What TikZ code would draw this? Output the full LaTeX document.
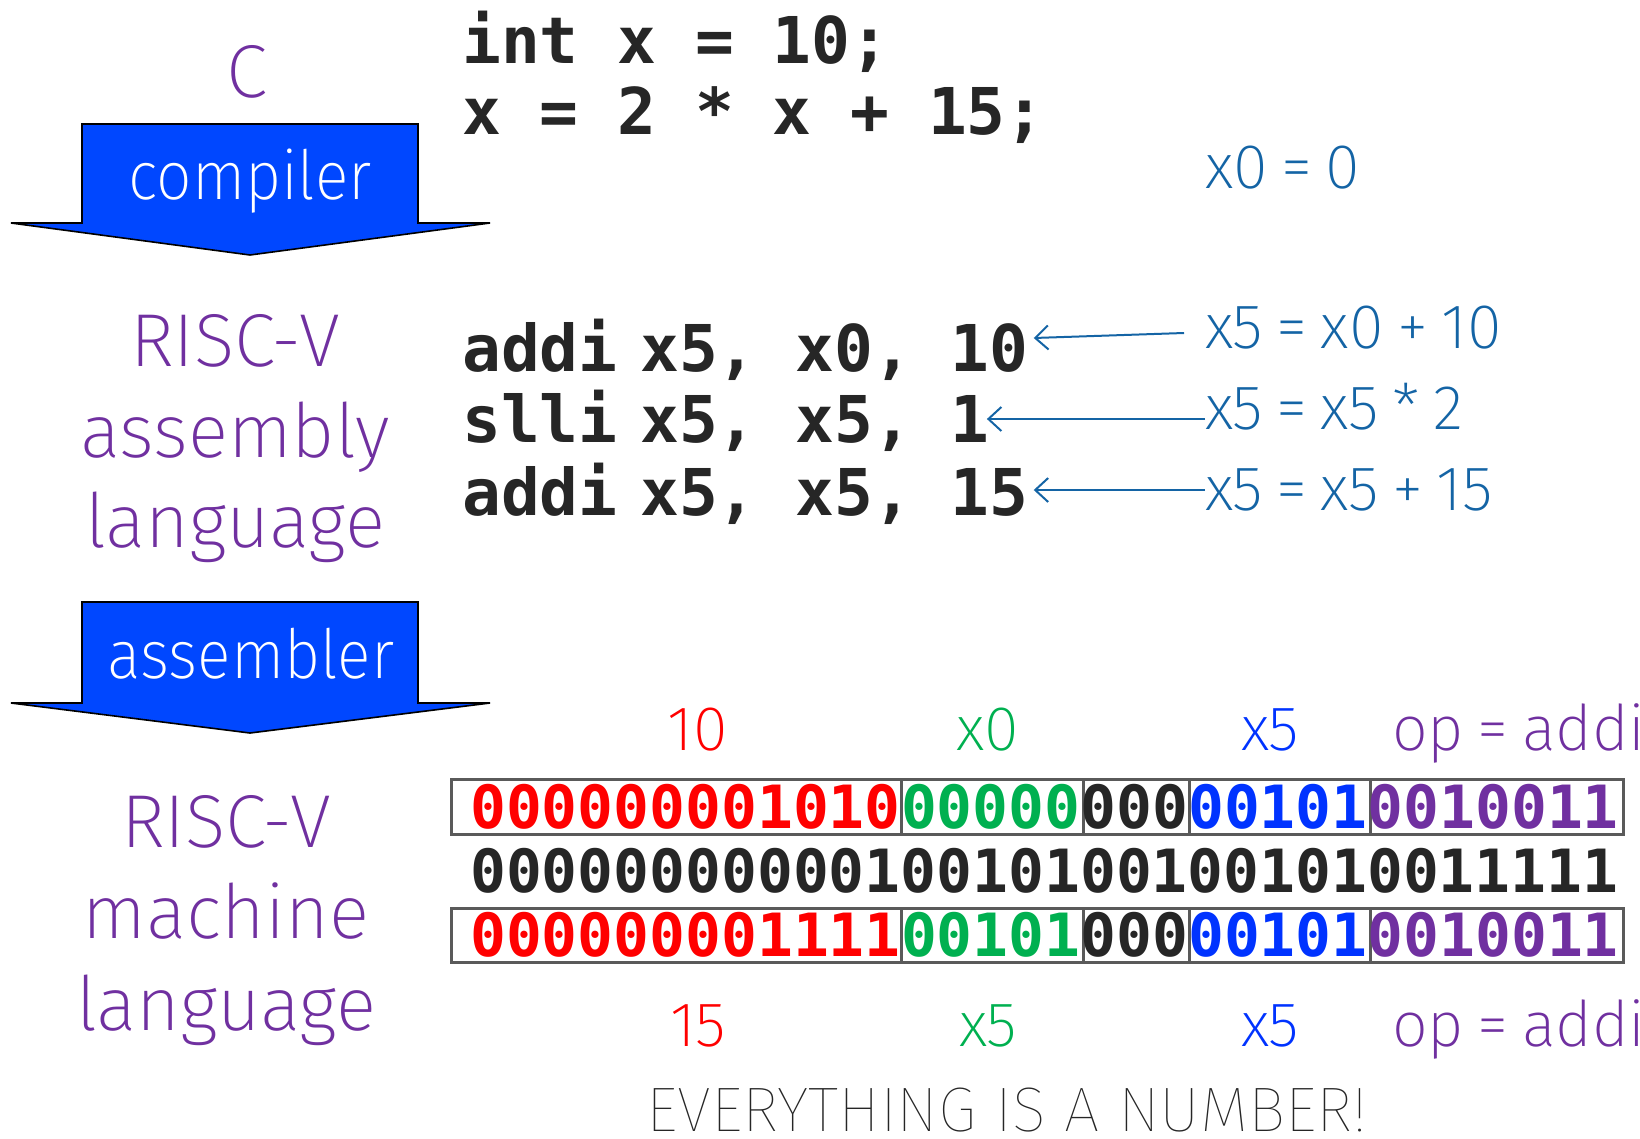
\documentclass[tikz,border=0pt]{standalone}
\usepackage{fontspec}
\setmainfont{Fira Sans}[UprightFont=* ExtraLight, WordSpace=0.75]
\newfontfamily\arrfont{Fira Sans}[UprightFont=* ExtraLight, FakeStretch=0.92]
\newfontfamily\thinfont{Fira Sans}[UprightFont=* Thin]
\newfontfamily\codefont{DejaVu Sans Mono}
\usetikzlibrary{arrows.meta}
\definecolor{lblpurple}{HTML}{7030A0}
\definecolor{fred}{HTML}{FF0000}
\definecolor{fgreen}{HTML}{00B050}
\definecolor{fblue}{HTML}{0033FF}
\definecolor{arrfill}{HTML}{0047FF}
\definecolor{annblue}{HTML}{1464A5}
\definecolor{codegray}{HTML}{262626}
\definecolor{boxgray}{HTML}{5A5A5A}
\tikzset{
  lbl/.style={text=lblpurple, font=\fontsize{75}{75}\selectfont, inner sep=0, anchor=base},
  arrtxt/.style={text=white, font=\arrfont\fontsize{68}{68}\selectfont, inner sep=0, anchor=base},
  bigarrow/.style={fill=arrfill, draw=black, line width=1.6pt, line join=miter},
  codetxt/.style={text=codegray, font=\codefont\bfseries\fontsize{64.5}{64.5}\selectfont, inner sep=0, anchor=base west},
  bits/.style={font=\codefont\bfseries\fontsize{59.6}{59.6}\selectfont, inner sep=0, anchor=base west},
  ann/.style={text=annblue, font=\fontsize{63}{63}\selectfont, inner sep=0, anchor=base west},
  fieldlbl/.style={font=\fontsize{63}{63}\selectfont, inner sep=0, anchor=base},
  fieldbox/.style={draw=boxgray, line width=3pt},
  annarrow/.style={draw=annblue, line width=2pt, -{Straight Barb[length=13pt,width=24pt,line width=2pt]}}
}
\begin{document}
\begin{tikzpicture}[x=1pt,y=-1pt]
\useasboundingbox (0,0) rectangle (1640,1138);

% left column labels
\node[lbl] (lc) at (247,97) {C};
\draw[bigarrow] (82,124) -- (418,124) -- (418,223) -- (490,223) -- (250,255) -- (11,223) -- (82,223) -- cycle;
\node[arrtxt] (comp) at (250,199) {compiler};
\node[lbl] (l1) at (235,366) {RISC-V};
\node[lbl] (l2) at (235,457) {assembly};
\node[lbl] (l3) at (235,547) {language};
\draw[bigarrow] (82,602) -- (418,602) -- (418,703) -- (490,703) -- (250,733) -- (11,703) -- (82,703) -- cycle;
\node[arrtxt] (asmb) at (251,678) {assembler};
\node[lbl] (m1) at (226,847) {RISC-V};
\node[lbl] (m2) at (226,938) {machine};
\node[lbl] (m3) at (226,1030) {language};

% C code
\node[codetxt] (cc1) at (462,63) {int x = 10;};
\node[codetxt] (cc2) at (462,134) {x = 2 * x + 15;};

% assembly
\node[codetxt] (op1) at (462,371) {addi};
\node[codetxt] (c1) at (640,371) {x5, x0, 10};
\node[codetxt] (op2) at (462,442) {slli};
\node[codetxt] (c2) at (640,442) {x5, x5, 1};
\node[codetxt] (op3) at (462,515) {addi};
\node[codetxt] (c3) at (640,515) {x5, x5, 15};

% annotations
\node[ann] (a0) at (1205,188) {x0 = 0};
\node[ann] (a1) at (1205,348) {x5 = x0 + 10};
\node[ann] (a2) at (1205,429) {x5 = x5 * 2};
\node[ann] (a3) at (1205,510) {x5 = x5 + 15};
\draw[annarrow] ([xshift=-21pt,yshift=15pt]a1.base west) -- ([xshift=5pt,yshift=33pt]c1.base east);
\draw[annarrow] ([yshift=10pt]a2.base west) -- ([xshift=-3pt,yshift=23pt]c2.base east);
\draw[annarrow] ([yshift=20pt]a3.base west) -- ([xshift=5pt,yshift=25pt]c3.base east);

% field labels top
\node[fieldlbl, text=fred] (t1) at (698,750) {10};
\node[fieldlbl, text=fgreen] (t2) at (988,750) {x0};
\node[fieldlbl, text=fblue] (t3) at (1270,750) {x5};
\node[fieldlbl, text=lblpurple, anchor=base west] (t4) at (1392,750) {op = addi};

% boxes
\foreach \a/\b in {451/901, 901/1083, 1083/1189, 1189/1370, 1370/1623}
  \draw[fieldbox] (\a,779) rectangle (\b,834);
\foreach \a/\b in {451/901, 901/1083, 1083/1189, 1189/1370, 1370/1623}
  \draw[fieldbox] (\a,908) rectangle (\b,962);

% row 1 bits
\node[bits, text=fred] (r1a) at (470,828) {000000001010};
\node[bits, text=fgreen] (r1b) at (900.8,828) {00000};
\node[bits, text=codegray] (r1c) at (1080.3,828) {000};
\node[bits, text=fblue] (r1d) at (1188,828) {00101};
\node[bits, text=lblpurple] (r1e) at (1367.5,828) {0010011};
% row 2 bits
\node[bits, text=codegray] (r2) at (470,892) {00000000000100101001001010011111};
% row 3 bits
\node[bits, text=fred] (r3a) at (470,956) {000000001111};
\node[bits, text=fgreen] (r3b) at (900.8,956) {00101};
\node[bits, text=codegray] (r3c) at (1080.3,956) {000};
\node[bits, text=fblue] (r3d) at (1188,956) {00101};
\node[bits, text=lblpurple] (r3e) at (1367.5,956) {0010011};

% field labels bottom
\node[fieldlbl, text=fred] (b1) at (698,1046) {15};
\node[fieldlbl, text=fgreen] (b2) at (988,1046) {x5};
\node[fieldlbl, text=fblue] (b3) at (1270,1046) {x5};
\node[fieldlbl, text=lblpurple, anchor=base west] (b4) at (1392,1046) {op = addi};

\node[inner sep=0, anchor=base, font=\thinfont\fontsize{63}{63}\selectfont, text=codegray] (ev) at (1007,1131) {EVERYTHING IS A NUMBER!};
\end{tikzpicture}
\end{document}
